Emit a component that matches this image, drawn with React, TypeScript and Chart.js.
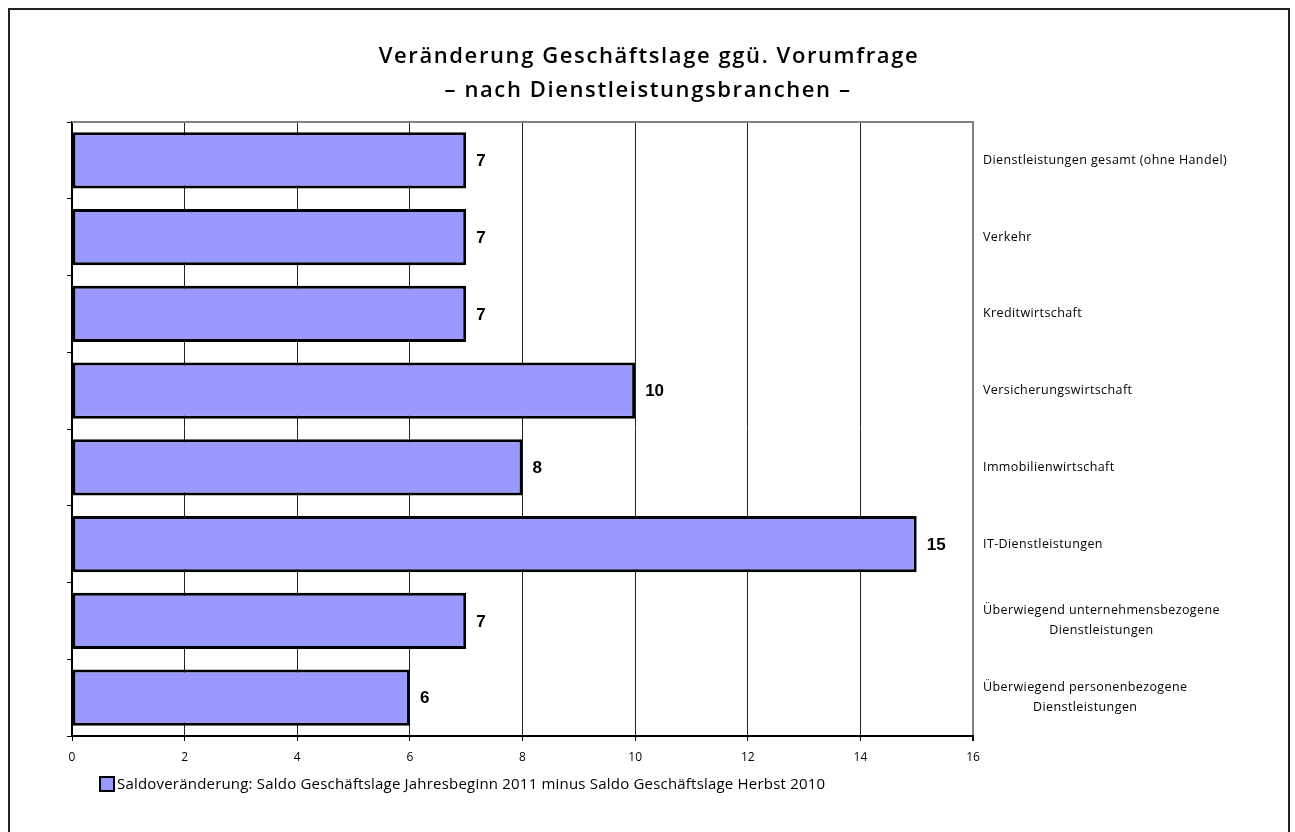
import React, { useEffect, useRef } from "react";
import { Chart, registerables } from "chart.js";

Chart.register(...registerables);

const titleLines = ["Veränderung Geschäftslage ggü. Vorumfrage", "– nach Dienstleistungsbranchen –"];
const categories: (string | string[])[] = [
  "Dienstleistungen gesamt (ohne Handel)",
  "Verkehr",
  "Kreditwirtschaft",
  "Versicherungswirtschaft",
  "Immobilienwirtschaft",
  "IT-Dienstleistungen",
  ["Überwiegend unternehmensbezogene", "Dienstleistungen"],
  ["Überwiegend personenbezogene", "Dienstleistungen"],
];
const values = [7, 7, 7, 10, 8, 15, 7, 6];
const xTickValues = [0, 2, 4, 6, 8, 10, 12, 14, 16];
const seriesLabel =
  "Saldoveränderung: Saldo Geschäftslage Jahresbeginn 2011 minus Saldo Geschäftslage Herbst 2010";

const W = 1295;
const H = 832;
const BAR_FILL = "#9999FF";

const decorPlugin = {
  id: "decor",
  beforeDraw(chart: any) {
    const ctx = chart.ctx;
    ctx.save();
    ctx.fillStyle = "#ffffff";
    ctx.fillRect(0, 0, chart.width, chart.height);
    ctx.strokeStyle = "#222";
    ctx.lineWidth = 2;
    ctx.strokeRect(9, 9, 1280, 840);
    ctx.restore();
  },
  afterDraw(chart: any) {
    const ctx = chart.ctx;
    const area = chart.chartArea;
    const yScale = chart.scales.y;
    ctx.save();
    // top border of plot
    ctx.strokeStyle = "#808080";
    ctx.lineWidth = 2;
    ctx.beginPath();
    ctx.moveTo(area.left, area.top);
    ctx.lineTo(area.right + 1, area.top);
    ctx.stroke();

    // value labels
    const meta = chart.getDatasetMeta(0);
    ctx.fillStyle = "#000";
    ctx.font = "bold 17px 'Liberation Sans', Arial, sans-serif";
    ctx.textAlign = "left";
    ctx.textBaseline = "middle";
    meta.data.forEach((el: any, i: number) => {
      ctx.fillText(String(values[i]), el.x + 10, el.y + 1);
    });

    // category labels on the right
    ctx.font = "12.5px 'Open Sans', sans-serif";
    (ctx as any).letterSpacing = "0.4px";
    ctx.fillStyle = "#000";
    const x0 = area.right + 10;
    categories.forEach((cat, i) => {
      const yc = yScale.getPixelForValue(i);
      const lines = Array.isArray(cat) ? cat : [cat];
      const lh = 20;
      const startY = yc - ((lines.length - 1) * lh) / 2;
      const w1 = ctx.measureText(lines[0]).width;
      lines.forEach((ln, j) => {
        if (j === 0) {
          ctx.textAlign = "left";
          ctx.fillText(ln, x0, startY);
        } else {
          ctx.textAlign = "center";
          ctx.fillText(ln, x0 + w1 / 2, startY + j * lh);
        }
      });
    });

    // title
    ctx.textAlign = "center";
    ctx.font = "600 22px 'Open Sans', sans-serif";
    (ctx as any).letterSpacing = "1.6px";
    ctx.fillText(titleLines[0], 649, 57);
    ctx.fillText(titleLines[1], 648, 91);

    // legend
    (ctx as any).letterSpacing = "0.2px";
    ctx.fillStyle = BAR_FILL;
    ctx.fillRect(100, 777, 14, 14);
    ctx.strokeStyle = "#000";
    ctx.lineWidth = 2;
    ctx.strokeRect(100, 777, 14, 14);
    ctx.fillStyle = "#000";
    ctx.textAlign = "left";
    ctx.font = "15px 'Open Sans', sans-serif";
    ctx.fillText(seriesLabel, 117, 785);
    (ctx as any).letterSpacing = "0px";
    ctx.restore();
  },
};

export default function App() {
  const ref = useRef<HTMLCanvasElement | null>(null);
  useEffect(() => {
    document.body.style.margin = "0";
    const canvas = ref.current;
    if (!canvas) return;
    const chart = new Chart(canvas, {
      type: "bar",
      data: {
        labels: categories.map((c) => (Array.isArray(c) ? c.join(" ") : c)),
        datasets: [
          {
            label: seriesLabel,
            data: values,
            backgroundColor: BAR_FILL,
            borderColor: "#000",
            borderWidth: 3,
            borderSkipped: false,
            barPercentage: 0.73,
            categoryPercentage: 1,
          },
        ],
      },
      options: {
        indexAxis: "y",
        animation: false,
        responsive: false,
        devicePixelRatio: 1,
        layout: { padding: { left: 62, right: 322, top: 122, bottom: 66 } },
        plugins: {
          legend: { display: false },
          title: { display: false },
          tooltip: { enabled: false },
        },
        scales: {
          x: {
            type: "linear",
            position: "bottom",
            min: 0,
            max: 16,
            afterBuildTicks: (scale: any) => {
              scale.ticks = xTickValues.map((v) => ({ value: v }));
            },
            afterFit: (scale: any) => {
              scale.height = 30;
            },
            grid: {
              color: (c: any) => (c.tick && c.tick.value === 16 ? "#808080" : "#222"),
              lineWidth: (c: any) => (c.tick && c.tick.value === 16 ? 2 : 1),
              tickColor: "#000",
              drawTicks: true,
              tickLength: 5,
            },
            border: { color: "#000", width: 2 },
            ticks: {
              color: "#000",
              padding: 9,
              font: { family: "'Open Sans', sans-serif", size: 12 },
            },
          },
          y: {
            type: "category",
            position: "left",
            afterFit: (scale: any) => {
              scale.width = 10;
            },
            grid: {
              offset: true,
              drawOnChartArea: false,
              drawTicks: true,
              tickLength: 5,
              color: "#000",
            },
            border: { color: "#000", width: 2 },
            ticks: { display: false },
          },
        },
      },
      plugins: [decorPlugin],
    } as any);
    return () => chart.destroy();
  }, []);
  return <canvas ref={ref} width={W} height={H} style={{ display: "block", width: W, height: H }} />;
}
